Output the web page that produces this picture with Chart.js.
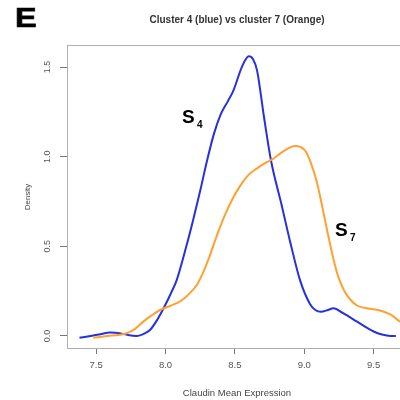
<!DOCTYPE html>
<html>
<head>
<meta charset="utf-8">
<script src="https://cdn.jsdelivr.net/npm/chart.js@4/dist/chart.umd.min.js"></script>
<style>
  html, body { margin: 0; padding: 0; background: #fff; }
  #wrap { width: 400px; height: 400px; }
</style>
</head>
<body>
<div id="wrap"><canvas id="chart" width="400" height="400"></canvas></div>
<script>
// cluster 4 (blue) density curve
const blueX = [7.38, 7.46, 7.53, 7.60, 7.67, 7.73, 7.79, 7.85, 7.89, 7.94, 7.99, 8.04, 8.08, 8.15, 8.20, 8.25, 8.30, 8.35, 8.40, 8.45, 8.49, 8.55, 8.60, 8.63, 8.66, 8.71, 8.76, 8.84, 8.90, 8.97, 9.04, 9.08, 9.12, 9.17, 9.21, 9.28, 9.38, 9.50, 9.56, 9.62, 9.66];
const blueY = [-0.01, 0.0, 0.01, 0.02, 0.016, 0.005, 0.0, 0.015, 0.035, 0.09, 0.16, 0.24, 0.31, 0.50, 0.65, 0.81, 0.98, 1.13, 1.24, 1.31, 1.37, 1.50, 1.56, 1.545, 1.48, 1.22, 0.98, 0.72, 0.52, 0.31, 0.18, 0.145, 0.135, 0.145, 0.155, 0.127, 0.08, 0.025, 0.008, 0.0, 0.0];

// cluster 7 (orange) density curve
const orangeX = [7.48, 7.58, 7.66, 7.72, 7.78, 7.84, 7.90, 7.96, 8.04, 8.11, 8.17, 8.23, 8.28, 8.32, 8.37, 8.42, 8.48, 8.54, 8.60, 8.66, 8.72, 8.78, 8.83, 8.88, 8.93, 8.97, 9.01, 9.05, 9.09, 9.13, 9.17, 9.21, 9.25, 9.29, 9.33, 9.38, 9.45, 9.53, 9.62, 9.69];
const orangeY = [-0.01, 0.0, 0.006, 0.015, 0.04, 0.08, 0.115, 0.145, 0.17, 0.195, 0.235, 0.29, 0.37, 0.45, 0.56, 0.66, 0.76, 0.84, 0.90, 0.935, 0.965, 0.99, 1.02, 1.045, 1.06, 1.055, 1.03, 0.96, 0.86, 0.72, 0.57, 0.43, 0.32, 0.25, 0.205, 0.17, 0.155, 0.145, 0.12, 0.08];

const xTicks = [7.5, 8.0, 8.5, 9.0, 9.5];
const yTicks = [0.0, 0.5, 1.0, 1.5];

const toPoints = (xs, ys) => xs.map((x, i) => ({ x: x, y: ys[i] }));

const textPlugin = {
    id: 'rtext',
    afterDraw(chart) {
        const ctx = chart.ctx;
        const area = chart.chartArea;
        const yScale = chart.scales.y;
        ctx.save();

        // box round the plot
        ctx.strokeStyle = '#b0b0b0';
        ctx.lineWidth = 1;
        ctx.strokeRect(area.left + 0.5, area.top + 0.5, area.right - area.left, area.bottom - area.top);

        // rotated y tick labels, R style
        ctx.fillStyle = '#555';
        ctx.font = '9px "Liberation Sans", Arial, sans-serif';
        ctx.textAlign = 'center';
        ctx.textBaseline = 'middle';
        yTicks.forEach(v => {
            ctx.save();
            ctx.translate(48, yScale.getPixelForValue(v));
            ctx.rotate(-Math.PI / 2);
            ctx.fillText(v.toFixed(1), 0, 0);
            ctx.restore();
        });

        // axis titles
        ctx.fillStyle = '#444';
        ctx.save();
        ctx.translate(28, 197);
        ctx.rotate(-Math.PI / 2);
        ctx.font = '8px "Liberation Sans", Arial, sans-serif';
        ctx.fillText('Density', 0, 0);
        ctx.restore();

        ctx.font = '9.5px "Liberation Sans", Arial, sans-serif';
        ctx.fillText('Claudin Mean Expression', 237, 393);

        ctx.fillStyle = '#333';
        ctx.font = 'bold 10px "Liberation Sans", Arial, sans-serif';
        ctx.fillText('Cluster 4 (blue) vs cluster 7 (Orange)', 237, 20);

        // panel letter
        ctx.fillStyle = '#000';
        ctx.strokeStyle = '#000';
        ctx.textAlign = 'left';
        ctx.textBaseline = 'alphabetic';
        ctx.save();
        ctx.translate(15, 27);
        ctx.scale(1.2, 1);
        ctx.font = 'bold 27px "Liberation Sans", Arial, sans-serif';
        ctx.lineWidth = 0.7;
        ctx.fillText('E', 0, 0);
        ctx.strokeText('E', 0, 0);
        ctx.restore();

        // curve labels
        ctx.font = 'bold 19px "Liberation Sans", Arial, sans-serif';
        ctx.fillText('S', 182, 123);
        ctx.fillText('S', 335, 236);
        ctx.font = 'bold 10px "Liberation Sans", Arial, sans-serif';
        ctx.fillText('4', 197, 128);
        ctx.fillText('7', 350, 241);

        ctx.restore();
    }
};

const ctx = document.getElementById('chart');
new Chart(ctx, {
    type: 'line',
    data: {
        datasets: [
            {
                label: 'Cluster 7',
                data: toPoints(orangeX, orangeY),
                borderColor: '#ffa030',
                borderWidth: 2,
                pointRadius: 0,
                cubicInterpolationMode: 'monotone',
                fill: false
            },
            {
                label: 'Cluster 4',
                data: toPoints(blueX, blueY),
                borderColor: '#2630e0',
                borderWidth: 2,
                pointRadius: 0,
                cubicInterpolationMode: 'monotone',
                fill: false
            }
        ]
    },
    options: {
        responsive: false,
        animation: false,
        layout: { padding: { top: 45, right: 0, left: 0, bottom: 0 } },
        plugins: {
            legend: { display: false },
            tooltip: { enabled: false },
            title: { display: false }
        },
        scales: {
            x: {
                type: 'linear',
                min: 7.29,
                max: 9.69,
                afterBuildTicks: (scale) => { scale.ticks = xTicks.map(v => ({ value: v })); },
                afterFit: (scale) => { scale.height = 52; },
                grid: { drawOnChartArea: false, tickLength: 6, color: '#777' },
                border: { display: false },
                ticks: {
                    color: '#555',
                    padding: 6,
                    maxRotation: 0,
                    font: { size: 9.5, family: '"Liberation Sans", Arial, sans-serif' },
                    callback: (v) => v.toFixed(1)
                }
            },
            y: {
                min: -0.067,
                max: 1.623,
                afterBuildTicks: (scale) => { scale.ticks = yTicks.map(v => ({ value: v })); },
                afterFit: (scale) => { scale.width = 67; },
                grid: { drawOnChartArea: false, tickLength: 7, color: '#777' },
                border: { display: false },
                ticks: { display: false }
            }
        }
    },
    plugins: [textPlugin]
});
</script>
</body>
</html>
